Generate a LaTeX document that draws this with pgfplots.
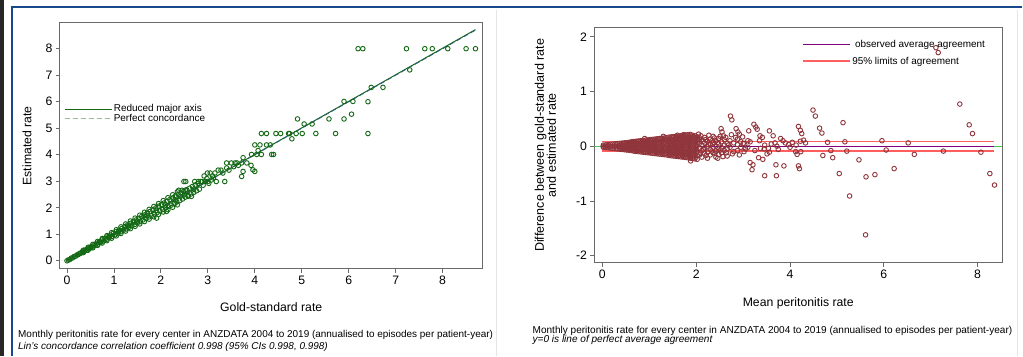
\documentclass[border=0pt]{standalone}
\usepackage{fontspec}
\setmainfont{Liberation Sans}
\usepackage{pgfplots}
\pgfplotsset{compat=1.18}
\definecolor{dkg}{RGB}{20,105,20}
\definecolor{cran}{RGB}{144,53,59}
\definecolor{frameblue}{RGB}{24,72,140}
\definecolor{sage}{RGB}{150,190,150}
\definecolor{tealline}{RGB}{45,95,125}
\definecolor{lred}{RGB}{255,95,95}
\definecolor{purp}{RGB}{128,0,128}
\definecolor{zgreen}{RGB}{70,200,70}
\definecolor{axgray}{RGB}{105,105,105}
\pgfplotsset{
  stata/.style={
    scale only axis,
    axis line style={draw=axgray, line width=1bp},
    tick align=outside,
    xtick pos=bottom, ytick pos=left,
    major tick length=4bp,
    tick style={draw=axgray, line width=0.8bp},
    tick label style={font=\fontsize{12.3}{12}\selectfont},
    label style={font=\fontsize{12.3}{14}\selectfont},
    legend cell align=left,
    legend image code/.code={\draw[#1] (0bp,0bp) -- (47bp,0bp);},
  }
}
\begin{document}
\begin{tikzpicture}
\path[fill=white] (0bp,0bp) rectangle (1023bp,356bp);
\fill[black!85] (0bp,0bp) rectangle (4bp,356bp);
\draw[black!10, line width=0.8bp] (497bp,0bp) -- (497bp,346bp);
\draw[black!10, line width=0.8bp] (1018bp,0bp) -- (1018bp,346bp);
\draw[frameblue, line width=2bp] (12bp,0bp) -- (12bp,348.5bp) -- (1023bp,348.5bp);

% ---------------- left panel ----------------
\begin{axis}[stata,
  at={(60bp,87bp)}, anchor=south west,
  width=423bp, height=246bp,
  xmin=-0.15, xmax=8.85, ymin=-0.3, ymax=8.97,
  xtick={0,1,2,3,4,5,6,7,8}, xticklabels={0,1,2,3,4,5,6,7,8},
  ytick={0,1,2,3,4,5,6,7,8}, yticklabels={0,1,2,3,4,5,6,7,8},
  xlabel={Gold-standard rate}, ylabel={Estimated rate},
  xlabel style={at={(axis description cs:0.5,0)}, anchor=center, yshift=-38bp},
  ylabel style={at={(axis description cs:0,0.5)}, anchor=center, yshift=33bp},
  legend style={at={(0.01,0.672)}, anchor=north west, draw=none, fill=none,
    font=\fontsize{10}{10}\selectfont, row sep=-1.5bp, inner sep=0pt,
    nodes={inner sep=1bp}},
]
\addplot[only marks, mark=o, mark size=2.3bp, dkg, mark options={line width=0.9bp}, forget plot] coordinates {
(0.00,0.00) (0.03,0.03) (0.06,0.05) (0.09,0.10) (0.12,0.11) (0.15,0.16) (0.18,0.17) (0.21,0.22)
(0.24,0.23) (0.27,0.28) (0.30,0.29) (0.33,0.35) (0.36,0.35) (0.39,0.41) (0.42,0.40) (0.45,0.47)
(0.48,0.46) (0.51,0.53) (0.54,0.52) (0.57,0.60) (0.60,0.58) (0.63,0.66) (0.66,0.63) (0.69,0.72)
(0.72,0.70) (0.75,0.79) (0.78,0.75) (0.81,0.84) (0.84,0.81) (0.87,0.91) (0.90,0.87) (0.93,0.97)
(0.96,0.92) (0.99,1.04) (1.02,0.98) (1.05,1.10) (1.08,1.03) (1.11,1.16) (1.14,1.09) (1.17,1.22)
(1.20,1.15) (1.23,1.29) (1.26,1.20) (1.29,1.35) (1.32,1.26) (1.35,1.41) (1.38,1.32) (1.41,1.48)
(1.44,1.37) (1.47,1.54) (1.50,1.43) (1.53,1.60) (1.56,1.48) (1.59,1.67) (1.62,1.54) (1.65,1.73)
(1.68,1.60) (1.71,1.80) (1.74,1.65) (1.77,1.86) (1.80,1.71) (1.83,1.93) (1.86,1.76) (1.89,1.99)
(1.92,1.82) (1.95,2.06) (1.98,1.88) (2.01,2.12) (2.04,1.93) (2.07,2.18) (2.10,2.00) (2.13,2.25)
(2.16,2.05) (2.19,2.31) (2.22,2.10) (2.25,2.37) (2.28,2.16) (2.31,2.44) (2.34,2.22) (2.37,2.50)
(2.40,2.27) (2.43,2.56) (2.46,2.33) (2.49,2.62) (2.52,2.40) (2.55,2.68) (2.58,2.46) (2.61,2.74)
(2.64,2.52) (2.67,2.80) (2.70,2.58) (2.73,2.86) (2.76,2.64) (2.79,2.92) (2.82,2.70) (2.85,2.99)
(0.50,0.50) (0.70,0.70) (0.90,0.90) (1.10,1.10) (1.30,1.30) (1.50,1.50) (1.70,1.70) (1.90,1.90)
(2.10,2.10) (2.30,2.30) (2.50,2.50) (2.70,2.70)
(0.35,0.40) (0.35,0.31) (0.45,0.51) (0.45,0.40) (0.55,0.62) (0.55,0.49) (0.65,0.73) (0.65,0.58)
(0.75,0.84) (0.75,0.67) (0.85,0.95) (0.85,0.76) (0.95,1.06) (0.95,0.85) (1.05,1.17) (1.05,0.94)
(1.15,1.28) (1.15,1.03) (1.25,1.39) (1.25,1.12) (1.35,1.50) (1.35,1.21) (1.45,1.61) (1.45,1.30)
(1.55,1.72) (1.55,1.39) (1.65,1.83) (1.65,1.48) (1.75,1.94) (1.75,1.57) (1.85,2.05) (1.85,1.66)
(1.95,2.16) (1.95,1.75) (2.05,2.27) (2.05,1.84) (2.15,2.38) (2.15,1.93) (2.25,2.49) (2.25,2.02)
(2.35,2.60) (2.35,2.11)
(2.38,2.66) (2.45,2.66) (2.52,2.66) (2.30,2.17) (2.42,2.43) (2.58,2.43) (2.65,2.43)
(2.49,2.99) (2.53,2.99) (2.72,2.99) (2.80,2.99) (2.88,2.99) (2.95,2.99) (3.00,2.99) (3.18,2.99) (3.36,2.99)
(2.99,3.31) (3.05,3.31) (3.10,3.20) (2.92,3.20) (2.98,3.10) (3.08,3.05) (2.90,2.85) (3.02,2.92)
(3.12,3.12) (3.15,3.31) (3.22,3.42) (3.28,3.42) (3.32,3.31) (3.40,3.69) (3.50,3.69) (3.58,3.69)
(3.62,3.69) (3.72,3.69) (3.83,3.69) (3.72,3.18) (3.75,3.37) (3.96,3.43) (4.00,3.37) (3.75,3.89)
(3.92,3.60) (3.40,3.50) (3.45,3.42) (3.55,3.55) (3.65,3.60) (2.12,1.86) (1.91,1.61)
(3.93,4.01) (4.04,4.01) (4.14,4.01) (4.36,4.01) (4.40,4.01) (4.07,4.16) (4.00,4.37) (4.11,4.37)
(4.25,4.37) (4.33,4.37) (4.14,4.80) (4.25,4.80) (4.45,4.80) (4.55,4.80) (4.72,4.80) (4.74,4.80)
(4.88,4.80) (5.01,4.80) (5.30,4.80) (5.72,4.80) (6.41,4.80) (4.79,4.60) (5.05,5.16) (5.22,5.16)
(4.91,5.35) (5.58,5.35) (5.90,5.35) (6.06,5.53) (5.90,6.01) (6.09,6.01) (6.41,6.00) (6.48,6.54)
(6.73,6.54) (7.30,7.20) (6.20,8.00) (6.30,8.00) (7.23,8.00) (7.62,8.00) (7.78,8.00) (8.11,8.00)
(8.50,8.00) (8.70,8.00)
};
\addplot[dkg, line width=1bp, forget plot] coordinates {(0,0) (8.70,8.72)};
\addplot[tealline, line width=0.9bp, dash pattern=on 5bp off 3bp, forget plot] coordinates {(0,0) (8.70,8.70)};
\addlegendimage{dkg, line width=1bp}
\addlegendentry{Reduced major axis}
\addlegendimage{sage, line width=1.5bp, dash pattern=on 5bp off 3bp}
\addlegendentry{Perfect concordance}
\end{axis}

% ---------------- right panel ----------------
\begin{axis}[stata,
  at={(595bp,93bp)}, anchor=south west,
  width=408bp, height=235bp,
  xmin=-0.17, xmax=8.52, ymin=-2.13, ymax=2.16,
  xtick={0,2,4,6,8}, xticklabels={0,2,4,6,8},
  ytick={-2,-1,0,1,2}, yticklabels={-2,-1,0,1,2},
  xlabel={Mean peritonitis rate},
  ylabel={Difference between gold-standard rate\\and estimated rate},
  xlabel style={at={(axis description cs:0.5,0)}, anchor=center, yshift=-41bp},
  ylabel style={at={(axis description cs:0,0.5)}, anchor=center, yshift=49bp, align=center,
    font=\fontsize{12.6}{12}\selectfont},
  legend style={at={(0.51,0.953)}, anchor=north west, draw=none, fill=none,
    font=\fontsize{10}{10}\selectfont, row sep=6bp, inner sep=0pt,
    nodes={inner sep=1bp}},
]
\addplot[zgreen, line width=0.8bp, forget plot] coordinates {(-0.17,0) (8.52,0)};
\addplot[only marks, mark=o, mark size=2.3bp, cran, mark options={line width=0.9bp}, forget plot] coordinates {
(0.02,0.02) (0.02,0.00) (0.02,-0.02)
(0.07,0.024) (0.07,-0.003) (0.07,-0.025)
(0.12,0.028) (0.12,0.004) (0.12,-0.03)
(0.17,0.033) (0.17,-0.005) (0.17,-0.035)
(0.22,0.037) (0.22,0.004) (0.22,-0.04)
(0.27,0.042) (0.27,-0.004) (0.27,-0.045)
(0.32,0.047) (0.32,0.005) (0.32,-0.05)
(0.37,0.052) (0.37,0.02) (0.37,-0.02) (0.37,-0.055)
(0.42,0.056) (0.42,0.02) (0.42,-0.015) (0.42,-0.06)
(0.47,0.061) (0.47,0.02) (0.47,-0.025) (0.47,-0.065)
(0.52,0.065) (0.52,0.025) (0.52,-0.02) (0.52,-0.07)
(0.57,0.07) (0.57,0.025) (0.57,-0.025) (0.57,-0.075)
(0.62,0.08) (0.62,0.04) (0.62,0.0) (0.62,-0.04) (0.62,-0.08)
(0.67,0.085) (0.67,0.045) (0.67,0.005) (0.67,-0.04) (0.67,-0.09)
(0.72,0.09) (0.72,0.05) (0.72,-0.005) (0.72,-0.05) (0.72,-0.095)
(0.77,0.095) (0.77,0.045) (0.77,0.0) (0.77,-0.05) (0.77,-0.10)
(0.82,0.10) (0.82,0.05) (0.82,0.005) (0.82,-0.055) (0.82,-0.105)
(0.87,0.105) (0.87,0.055) (0.87,-0.005) (0.87,-0.06) (0.87,-0.11)
(0.92,0.11) (0.92,0.06) (0.92,0.0) (0.92,-0.06) (0.92,-0.115)
(0.97,0.115) (0.97,0.06) (0.97,0.005) (0.97,-0.065) (0.97,-0.12)
(1.02,0.12) (1.02,0.065) (1.02,-0.005) (1.02,-0.065) (1.02,-0.125)
(1.07,0.125) (1.07,0.07) (1.07,0.0) (1.07,-0.07) (1.07,-0.13)
(1.12,0.13) (1.12,0.07) (1.12,0.005) (1.12,-0.07) (1.12,-0.135)
(1.17,0.135) (1.17,0.075) (1.17,-0.005) (1.17,-0.075) (1.17,-0.14)
(1.22,0.14) (1.22,0.075) (1.22,0.0) (1.22,-0.08) (1.22,-0.145)
(1.27,0.145) (1.27,0.08) (1.27,0.005) (1.27,-0.08) (1.27,-0.15)
(1.32,0.15) (1.32,0.08) (1.32,-0.005) (1.32,-0.085) (1.32,-0.155)
(1.37,0.155) (1.37,0.085) (1.37,0.0) (1.37,-0.085) (1.37,-0.16)
(1.42,0.165) (1.42,0.11) (1.42,0.055) (1.42,0.0) (1.42,-0.06) (1.42,-0.115) (1.42,-0.17)
(1.47,0.17) (1.47,0.115) (1.47,0.06) (1.47,0.005) (1.47,-0.055) (1.47,-0.12) (1.47,-0.175)
(1.52,0.175) (1.52,0.12) (1.52,0.06) (1.52,0.0) (1.52,-0.06) (1.52,-0.125) (1.52,-0.18)
(1.57,0.18) (1.57,0.12) (1.57,0.065) (1.57,0.005) (1.57,-0.065) (1.57,-0.125) (1.57,-0.185)
(1.62,0.185) (1.62,0.125) (1.62,0.065) (1.62,0.0) (1.62,-0.065) (1.62,-0.13) (1.62,-0.19)
(1.67,0.19) (1.67,0.13) (1.67,0.07) (1.67,0.005) (1.67,-0.065) (1.67,-0.135) (1.67,-0.195)
(1.72,0.20) (1.72,0.135) (1.72,0.07) (1.72,0.0) (1.72,-0.07) (1.72,-0.14) (1.72,-0.20)
(1.77,0.205) (1.77,0.14) (1.77,0.075) (1.77,0.005) (1.77,-0.07) (1.77,-0.14) (1.77,-0.205)
(1.82,0.21) (1.82,0.14) (1.82,0.075) (1.82,0.0) (1.82,-0.075) (1.82,-0.145) (1.82,-0.21)
(1.87,0.215) (1.87,0.145) (1.87,0.075) (1.87,0.005) (1.87,-0.075) (1.87,-0.15) (1.87,-0.22)
(1.92,0.20) (1.92,0.15) (1.92,0.08) (1.92,0.0) (1.92,-0.08) (1.92,-0.155) (1.92,-0.225)
(1.97,0.19) (1.97,0.15) (1.97,0.08) (1.97,0.005) (1.97,-0.08) (1.97,-0.16) (1.97,-0.23)
(2.02,0.17) (2.02,0.12) (2.02,0.06) (2.02,0.0) (2.02,-0.09) (2.02,-0.17) (2.02,-0.24)
(0.395,0.038) (0.395,0.0) (0.395,-0.038)
(0.445,0.041) (0.445,0.0) (0.445,-0.041)
(0.495,0.044) (0.495,0.0) (0.495,-0.044)
(0.545,0.048) (0.545,0.0) (0.545,-0.048)
(0.595,0.06) (0.595,0.02) (0.595,-0.02) (0.595,-0.06)
(0.645,0.068) (0.645,0.023) (0.645,-0.023) (0.645,-0.068)
(0.695,0.072) (0.695,0.024) (0.695,-0.024) (0.695,-0.072)
(0.745,0.077) (0.745,0.026) (0.745,-0.026) (0.745,-0.077)
(0.795,0.080) (0.795,0.027) (0.795,-0.027) (0.795,-0.080)
(0.845,0.085) (0.845,0.028) (0.845,-0.028) (0.845,-0.085)
(0.895,0.089) (0.895,0.030) (0.895,-0.030) (0.895,-0.089)
(0.945,0.093) (0.945,0.031) (0.945,-0.031) (0.945,-0.093)
(0.995,0.097) (0.995,0.032) (0.995,-0.032) (0.995,-0.097)
(1.045,0.101) (1.045,0.034) (1.045,-0.034) (1.045,-0.101)
(1.095,0.105) (1.095,0.035) (1.095,-0.035) (1.095,-0.105)
(1.145,0.110) (1.145,0.037) (1.145,-0.037) (1.145,-0.110)
(1.195,0.113) (1.195,0.038) (1.195,-0.038) (1.195,-0.113)
(1.245,0.118) (1.245,0.039) (1.245,-0.039) (1.245,-0.118)
(1.295,0.122) (1.295,0.041) (1.295,-0.041) (1.295,-0.122)
(1.345,0.126) (1.345,0.042) (1.345,-0.042) (1.345,-0.126)
(1.395,0.130) (1.395,0.043) (1.395,-0.043) (1.395,-0.130)
(1.445,0.149) (1.445,0.09) (1.445,0.03) (1.445,-0.03) (1.445,-0.09) (1.445,-0.149)
(1.495,0.153) (1.495,0.092) (1.495,0.031) (1.495,-0.031) (1.495,-0.092) (1.495,-0.153)
(1.545,0.158) (1.545,0.095) (1.545,0.032) (1.545,-0.032) (1.545,-0.095) (1.545,-0.158)
(1.595,0.162) (1.595,0.098) (1.595,0.033) (1.595,-0.033) (1.595,-0.098) (1.595,-0.162)
(1.645,0.167) (1.645,0.10) (1.645,0.034) (1.645,-0.034) (1.645,-0.10) (1.645,-0.167)
(1.695,0.171) (1.695,0.103) (1.695,0.035) (1.695,-0.035) (1.695,-0.103) (1.695,-0.171)
(1.745,0.176) (1.745,0.106) (1.745,0.036) (1.745,-0.036) (1.745,-0.106) (1.745,-0.176)
(1.795,0.18) (1.795,0.108) (1.795,0.037) (1.795,-0.037) (1.795,-0.108) (1.795,-0.18)
(1.845,0.185) (1.845,0.111) (1.845,0.038) (1.845,-0.038) (1.845,-0.111) (1.845,-0.185)
(1.895,0.18) (1.895,0.114) (1.895,0.039) (1.895,-0.039) (1.895,-0.114) (1.895,-0.19)
(1.945,0.17) (1.945,0.117) (1.945,0.04) (1.945,-0.04) (1.945,-0.117) (1.945,-0.194)
(1.995,0.16) (1.995,0.10) (1.995,0.03) (1.995,-0.045) (1.995,-0.12) (1.995,-0.2)
(2.07,0.15) (2.07,0.05) (2.07,-0.04) (2.07,-0.16)
(2.12,0.12) (2.12,0.02) (2.12,-0.08) (2.12,-0.20)
(2.18,0.16) (2.18,0.06) (2.18,-0.03) (2.18,-0.13)
(2.24,0.09) (2.24,-0.01) (2.24,-0.11) (2.24,-0.22)
(2.30,0.13) (2.30,0.04) (2.30,-0.06) (2.30,-0.16)
(2.36,0.18) (2.36,0.07) (2.36,-0.02) (2.36,-0.12)
(2.42,0.10) (2.42,0.0) (2.42,-0.09) (2.42,-0.20)
(2.48,0.14) (2.48,0.04) (2.48,-0.05) (2.48,-0.15)
(2.54,0.08) (2.54,-0.03) (2.54,-0.12)
(2.60,0.12) (2.60,0.02) (2.60,-0.08)
(2.66,0.05) (2.66,-0.05) (2.66,-0.18)
(2.72,0.10) (2.72,-0.02) (2.80,0.06) (2.80,-0.10)
(2.88,0.03) (2.88,-0.08) (2.88,0.13) (2.95,-0.02) (2.95,0.08) (3.02,0.05) (3.02,-0.10)
(3.10,0.10) (3.10,-0.02)
(2.05,0.10) (2.09,-0.12) (2.10,0.19) (2.15,-0.06) (2.15,0.09) (2.20,0.12) (2.21,-0.17)
(2.26,0.03) (2.27,0.20) (2.33,-0.09) (2.34,0.10) (2.39,0.15) (2.40,-0.13) (2.45,0.06)
(2.46,-0.22) (2.51,0.18) (2.52,-0.07) (2.57,-0.19) (2.63,0.16) (2.64,-0.12) (2.69,0.02)
(2.75,0.21) (2.77,-0.14) (2.84,0.16) (2.92,-0.16) (2.99,0.17)
(1.73,0.21) (1.60,0.20) (1.88,-0.27) (1.30,0.18) (2.05,0.22) (0.90,0.14)
(2.73,0.55) (2.76,0.48) (2.53,0.32) (2.55,0.26) (2.58,0.19) (2.85,0.32) (2.89,0.26) (2.92,0.22)
(3.12,0.28) (3.23,0.40) (3.27,0.35) (3.30,0.31) (3.56,0.28) (3.36,0.19) (3.41,0.16) (3.64,0.19)
(3.80,0.14) (4.49,0.66) (4.54,0.55) (4.18,0.36) (4.22,0.29) (4.25,0.23) (4.63,0.33) (4.68,0.24)
(5.13,0.43) (7.11,1.80) (7.16,1.71) (7.62,0.77) (7.82,0.39) (7.89,0.23) (5.96,0.10) (6.52,0.06)
(6.05,-0.07) (6.65,-0.15) (7.27,-0.09) (8.07,-0.11) (8.26,-0.50) (6.22,-0.41) (5.62,-0.56)
(5.81,-0.52) (5.05,-0.50) (5.47,-0.25) (4.91,-0.21) (4.70,-0.17) (4.87,-0.08) (5.21,-0.09)
(4.80,0.07) (5.17,0.08) (4.18,-0.36) (4.20,-0.41) (4.12,-0.10) (4.15,-0.15) (4.13,0.02)
(4.22,0.09) (4.29,0.11) (4.33,0.06) (4.23,-0.10) (3.70,-0.34) (3.87,-0.36) (3.46,-0.54)
(3.71,-0.54) (3.19,-0.43) (3.15,-0.30) (3.21,-0.34) (3.33,-0.21) (3.42,-0.24) (3.51,-0.14)
(3.56,-0.11) (3.54,-0.04) (3.46,0.02) (3.37,-0.04) (3.72,0.00) (3.68,0.06) (3.90,0.06) (3.97,0.03)
(3.00,0.05) (3.05,-0.05) (3.15,0.08) (3.25,-0.08) (3.35,0.10) (3.45,-0.05) (3.60,0.04)
(3.75,-0.06) (3.85,0.10) (4.00,-0.02) (4.05,0.07)
(5.27,-0.91) (5.61,-1.62) (8.36,-0.71)
};
\addplot[purp, line width=0.9bp] coordinates {(0,-0.003) (8.35,-0.003)};
\addlegendentry{\ observed average agreement}
\addplot[lred, line width=1.8bp] coordinates {(0,0.084) (8.35,0.084)};
\addlegendentry{95\% limits of agreement}
\addplot[lred, line width=1.8bp, forget plot] coordinates {(0,-0.085) (8.35,-0.085)};
\end{axis}

% captions
\node[anchor=base west, inner sep=0pt, font=\fontsize{10}{10}\selectfont] at (18bp,18.5bp)
  {Monthly peritonitis rate for every center in ANZDATA 2004 to 2019 (annualised to episodes per patient-year)};
\node[anchor=base west, inner sep=0pt, font=\fontsize{10}{10}\selectfont\itshape] at (18bp,6bp)
  {Lin's concordance correlation coefficient 0.998 (95\% CIs 0.998, 0.998)};
\node[anchor=base west, inner sep=0pt, font=\fontsize{10.1}{10}\selectfont] at (533bp,22.5bp)
  {Monthly peritonitis rate for every center in ANZDATA 2004 to 2019 (annualised to episodes per patient-year)};
\node[anchor=base west, inner sep=0pt, font=\fontsize{10.1}{10}\selectfont\itshape] at (533bp,13bp)
  {y=0 is line of perfect average agreement};
\end{tikzpicture}
\end{document}
